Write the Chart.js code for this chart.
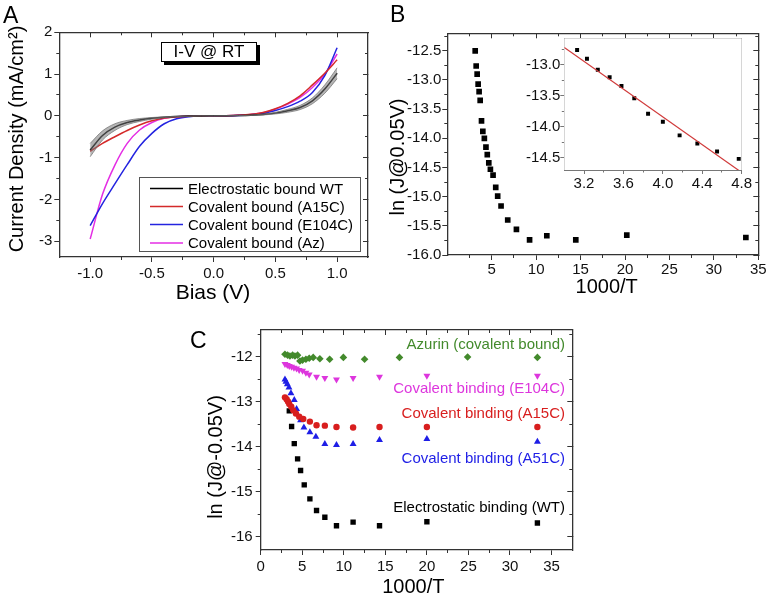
<!DOCTYPE html>
<html><head><meta charset="utf-8">
<script src="https://cdn.jsdelivr.net/npm/chart.js@4.4.1/dist/chart.umd.min.js"></script>
<style>
html,body{margin:0;padding:0;background:#fff;}
#wrap{position:relative;width:768px;height:599px;overflow:hidden;background:#fff;}
canvas{position:absolute;}
</style></head><body>
<div id="wrap">
<canvas id="cA" width="390" height="320" style="left:0px;top:0px"></canvas>
<canvas id="cB" width="420" height="320" style="left:385px;top:0px"></canvas>
<canvas id="cBi" width="300" height="190" style="left:500px;top:0px"></canvas>
<canvas id="cC" width="420" height="299" style="left:180px;top:300px"></canvas>
</div>
<script>
const FONT = "'Liberation Sans', Arial, sans-serif";

// ---------- Panel A : I-V @ RT ----------
const biasV   = [-1.0,-0.9,-0.8,-0.7,-0.6,-0.5,-0.4,-0.3,-0.2,-0.1,0,0.1,0.2,0.3,0.4,0.5,0.6,0.7,0.8,0.9,1.0];
const jWT     = [-0.82,-0.47,-0.27,-0.16,-0.10,-0.06,-0.033,-0.016,-0.007,-0.002,0,0.002,0.006,0.014,0.03,0.065,0.12,0.2,0.36,0.64,1.02];
const jWTerr  = [0.16,0.11,0.08,0.05,0.035,0.02,0.01,0.005,0,0,0,0,0,0.005,0.01,0.02,0.035,0.05,0.07,0.1,0.13];
const jA15C   = [-0.85,-0.66,-0.5,-0.35,-0.22,-0.12,-0.055,-0.022,-0.008,-0.002,0,0.004,0.014,0.035,0.08,0.17,0.3,0.48,0.74,1.02,1.34];
const jE104C  = [-2.63,-2.1,-1.63,-1.17,-0.73,-0.42,-0.19,-0.07,-0.02,-0.004,0,0.002,0.01,0.028,0.06,0.13,0.22,0.35,0.56,0.96,1.63];
const jAz     = [-2.95,-1.88,-1.18,-0.66,-0.34,-0.16,-0.06,-0.02,-0.006,-0.001,0,0.003,0.012,0.033,0.075,0.16,0.28,0.44,0.68,1.0,1.48];
const aLabels = ["Electrostatic bound WT","Covalent bound (A15C)","Covalent bound (E104C)","Covalent bound (Az)"];
const aXTicks = [-1.0,-0.5,0.0,0.5,1.0];
const aXMinor = [-0.75,-0.25,0.25,0.75];
const aYTicks = [-3,-2,-1,0,1,2];
const aYMinor = [-2.5,-1.5,-0.5,0.5,1.5];

// ---------- Panel B : ln J vs 1000/T ----------
const bInvT = [3.14,3.25,3.36,3.47,3.58,3.7,3.85,4.0,4.17,4.35,4.5,4.67,4.85,5.15,5.45,5.67,6.05,6.8,7.78,9.26,11.2,14.46,20.2,33.6];
const bLnJ  = [-12.5,-12.76,-12.9,-13.07,-13.2,-13.35,-13.7,-13.88,-14.0,-14.15,-14.28,-14.42,-14.53,-14.63,-14.84,-14.99,-15.16,-15.4,-15.56,-15.74,-15.67,-15.74,-15.66,-15.7];
const bXTicks = [5,10,15,20,25,30,35];
const bXMinor = [2.5,7.5,12.5,17.5,22.5,27.5,32.5];
const bYTicks = [-16.0,-15.5,-15.0,-14.5,-14.0,-13.5,-13.0,-12.5];
const bYMinor = [-15.75,-15.25,-14.75,-14.25,-13.75,-13.25,-12.75,-12.25];

// inset
const iInvT = [3.13,3.23,3.34,3.46,3.58,3.71,3.85,4.0,4.17,4.35,4.55,4.77];
const iLnJ  = [-12.76,-12.9,-13.08,-13.2,-13.34,-13.54,-13.79,-13.92,-14.14,-14.27,-14.4,-14.52];
const iFitX = [3.0,4.8];
const iFitY = [-12.72,-14.74];
const iXTicks = [3.2,3.6,4.0,4.4,4.8];
const iXMinor = [3.4,3.8,4.2,4.6];
const iYTicks = [-14.5,-14.0,-13.5,-13.0];
const iYMinor = [-14.25,-13.75,-13.25,-12.75];

// ---------- Panel C ----------
const cAzX  = [2.92,3.24,3.52,3.84,4.12,4.44,4.72,5.04,5.44,5.84,6.32,7.12,8.3,9.95,12.5,16.7,24.9,33.3];
const cAzY  = [-11.94,-11.96,-11.98,-11.96,-11.98,-11.96,-12.09,-12.07,-12.05,-12.03,-12.01,-12.04,-12.05,-12.01,-12.05,-12.01,-12.0,-12.01];
const cE104X = [2.92,3.2,3.44,3.72,4.0,4.32,4.63,5.04,5.44,5.84,6.72,7.72,9.12,11.12,14.3,20,33.3];
const cE104Y = [-12.16,-12.18,-12.2,-12.22,-12.24,-12.26,-12.29,-12.31,-12.35,-12.39,-12.44,-12.47,-12.5,-12.47,-12.44,-12.42,-12.42];
const cA15X = [2.92,3.12,3.28,3.44,3.68,3.92,4.24,4.64,5.12,5.92,6.72,7.72,9.12,11.12,14.3,20,33.3];
const cA15Y = [-12.9,-12.94,-12.99,-13.05,-13.11,-13.19,-13.26,-13.33,-13.38,-13.44,-13.52,-13.53,-13.56,-13.57,-13.56,-13.56,-13.56];
const cA51X = [2.92,3.04,3.2,3.4,3.64,4.04,4.32,4.8,5.2,5.92,6.64,7.72,9.12,11.12,14.3,20,33.3];
const cA51Y = [-12.5,-12.55,-12.61,-12.68,-12.81,-12.96,-13.16,-13.41,-13.57,-13.68,-13.78,-13.94,-13.96,-13.94,-13.85,-13.83,-13.89];
const cWTX  = [3.44,3.72,4.04,4.44,4.8,5.24,5.92,6.72,7.72,9.12,11.12,14.3,20,33.3];
const cWTY  = [-13.2,-13.55,-13.93,-14.27,-14.53,-14.85,-15.16,-15.42,-15.57,-15.76,-15.68,-15.76,-15.67,-15.7];
const cLabels = ["Azurin (covalent bound)","Covalent binding (E104C)","Covalent binding (A15C)","Covalent binding (A51C)","Electrostatic binding (WT)"];
const cXTicks = [0,5,10,15,20,25,30,35];
const cXMinor = [2.5,7.5,12.5,17.5,22.5,27.5,32.5];
const cYTicks = [-16,-15,-14,-13,-12];
const cYMinor = [-15.5,-14.5,-13.5,-12.5,-11.5];

// ---------- helpers ----------
const pts = (xs, ys) => xs.map((x, i) => ({x, y: ys[i]}));

function makeDeco(items, bg, ox, oy, extra) {
  return {
    id: 'deco',
    beforeDatasetsDraw(chart) {
      if (!bg) return;
      const ctx = chart.ctx, a = chart.chartArea;
      ctx.save(); ctx.fillStyle = bg;
      ctx.fillRect(a.left, a.top, a.right - a.left, a.bottom - a.top);
      ctx.restore();
    },
    afterDraw(chart) {
      const ctx = chart.ctx;
      ctx.save();
      ctx.translate(-ox, -oy);
      items.forEach(it => {
        ctx.save();
        ctx.font = it.font; ctx.fillStyle = it.color || '#000';
        ctx.textAlign = it.align || 'center'; ctx.textBaseline = it.base || 'middle';
        ctx.translate(it.x, it.y); if (it.rot) ctx.rotate(it.rot);
        ctx.fillText(it.t, 0, 0);
        ctx.restore();
      });
      if (extra) extra(ctx);
      ctx.restore();
    }
  };
}

// Builds the scales of one direction: labelled main axis, mirror frame axis (ticks inward),
// and two zero-size axes carrying the shorter minor ticks.
function axes(dir, min, max, major, minor, fmt, pad, sty) {
  const mk = (position, ticks, labels, tl, border, weight) => ({
    type: 'linear', axis: dir, position, min, max, weight,
    afterBuildTicks: s => { s.ticks = ticks.map(v => ({value: v})); },
    grid: {display: true, drawOnChartArea: false, drawTicks: true, tickLength: tl, tickColor: sty.color, tickWidth: 1},
    border: {display: border, color: sty.color, width: sty.bw},
    ticks: {display: labels, color: '#111', font: {family: FONT, size: 15}, padding: pad, autoSkip: false, maxRotation: 0,
            callback: v => fmt(v)}
  });
  const [p1, p2] = dir === 'x' ? ['bottom', 'top'] : ['left', 'right'];
  return {
    main:   mk(p1, major, true, sty.tl, true, 1),
    mirror: mk(p2, major, false, -sty.tl, true, 1),
    mainMinor:   mk(p1, minor, false, sty.mt, false, 0),
    mirrorMinor: mk(p2, minor, false, -sty.mt, false, 0)
  };
}

// area given in page coordinates; canvas placed at (ox, oy)
function makeChart(id, ox, oy, type, area, datasets, xs, ys, items, extra, bg) {
  const cv = document.getElementById(id);
  const W = cv.width, H = cv.height;
  const l = area.l - ox, t = area.t - oy, r = area.r - ox, b = area.b - oy;
  xs.main.afterFit = s => { s.height = H - b; };
  ys.main.afterFit = s => { s.width = l; };
  [xs.mirror, xs.mainMinor, xs.mirrorMinor].forEach(a => { a.afterFit = s => { s.height = 0; }; });
  [ys.mirror, ys.mainMinor, ys.mirrorMinor].forEach(a => { a.afterFit = s => { s.width = 0; }; });
  return new Chart(cv, {
    type,
    data: {datasets},
    options: {
      responsive: false, animation: false, devicePixelRatio: 1,
      layout: {padding: {left: 0, top: t, right: W - r, bottom: 0}},
      plugins: {legend: {display: false}, tooltip: {enabled: false}},
      scales: {x: xs.main, y: ys.main, x2: xs.mirror, y2: ys.mirror,
               x3: xs.mainMinor, x4: xs.mirrorMinor, y3: ys.mainMinor, y4: ys.mirrorMinor}
    },
    plugins: [makeDeco(items, bg, ox, oy, extra)]
  });
}

const STY = {tl: 5, mt: 3, color: '#333', bw: 1.3};
const STYI = {tl: 4, mt: 2.5, color: '#777', bw: 1};

// ---------- Panel A ----------
const colA = ['#000000', '#d42a2a', '#2424e0', '#e42ee4'];
const wtUp = biasV.map((v, i) => ({x: v, y: jWT[i] + jWTerr[i]}));
const wtLo = biasV.map((v, i) => ({x: v, y: jWT[i] - jWTerr[i]}));
const lineDs = (label, ys, color) => ({label, data: pts(biasV, ys), borderColor: color, borderWidth: 1.5,
  pointRadius: 0, fill: false, cubicInterpolationMode: 'monotone', showLine: true});

function legendA(ctx) {
  ctx.save();
  ctx.fillStyle = '#000'; ctx.fillRect(164, 45, 96, 20);
  ctx.fillStyle = '#fff'; ctx.fillRect(161, 42, 96, 20);
  ctx.strokeStyle = '#000'; ctx.lineWidth = 1; ctx.strokeRect(161.5, 42.5, 95, 19);
  ctx.fillStyle = '#000'; ctx.font = '17px ' + FONT; ctx.textAlign = 'center'; ctx.textBaseline = 'middle';
  ctx.fillText('I-V @ RT', 209, 52.5);
  ctx.fillStyle = '#fff'; ctx.fillRect(139, 177, 222, 75);
  ctx.strokeStyle = '#555'; ctx.strokeRect(139.5, 177.5, 221, 74);
  const rows = [188.5, 206.5, 224.5, 243];
  ctx.font = '15px ' + FONT; ctx.textAlign = 'left';
  aLabels.forEach((t, i) => {
    ctx.strokeStyle = colA[i]; ctx.lineWidth = 1.5;
    ctx.beginPath(); ctx.moveTo(150, rows[i]); ctx.lineTo(183, rows[i]); ctx.stroke();
    ctx.fillStyle = '#000'; ctx.fillText(t, 188, rows[i] + 1);
  });
  ctx.restore();
}

makeChart('cA', 0, 0, 'line', {l: 59.3, t: 32.3, r: 368, b: 257},
  [
    {label: 'errUp', data: wtUp, borderColor: 'rgba(110,110,110,0.7)', borderWidth: 1, pointRadius: 0, fill: false, cubicInterpolationMode: 'monotone'},
    {label: 'errLo', data: wtLo, borderColor: 'rgba(110,110,110,0.7)', borderWidth: 1, pointRadius: 0, fill: '-1', backgroundColor: 'rgba(120,120,120,0.55)', cubicInterpolationMode: 'monotone'},
    lineDs(aLabels[0], jWT, colA[0]),
    lineDs(aLabels[1], jA15C, colA[1]),
    lineDs(aLabels[2], jE104C, colA[2]),
    lineDs(aLabels[3], jAz, colA[3])
  ],
  axes('x', -1.25, 1.25, aXTicks, aXMinor, v => v.toFixed(1), 3, STY),
  axes('y', -3.38, 2, aYTicks, aYMinor, v => String(v), 2, STY),
  [
    {t: 'A', x: 3, y: 23, font: '23px ' + FONT, align: 'left', base: 'alphabetic'},
    {t: 'Bias (V)', x: 213, y: 293, font: '21px ' + FONT},
    {t: 'Current Density (mA/cm\u00B2)', x: 17.5, y: 139, font: '20px ' + FONT, rot: -Math.PI / 2}
  ],
  legendA
);

// ---------- Panel B ----------
makeChart('cB', 385, 0, 'scatter', {l: 447.3, t: 33.3, r: 758.3, b: 255},
  [{label: 'ln J', data: pts(bInvT, bLnJ), pointStyle: 'rect', pointRadius: 4, backgroundColor: '#000', borderColor: '#000', borderWidth: 0}],
  axes('x', 0, 35, bXTicks, bXMinor, v => String(v), 1, STY),
  axes('y', -16.0, -12.2, bYTicks, bYMinor, v => v.toFixed(1), 1, STY),
  [
    {t: 'B', x: 390, y: 22, font: '23px ' + FONT, align: 'left', base: 'alphabetic'},
    {t: '1000/T', x: 606.7, y: 287, font: '20px ' + FONT},
    {t: 'ln (J@0.05V)', x: 398, y: 157, font: '20px ' + FONT, rot: -Math.PI / 2}
  ]
);

makeChart('cBi', 500, 0, 'scatter', {l: 564.3, t: 38.3, r: 741.7, b: 170},
  [
    {label: 'fit', data: pts(iFitX, iFitY), showLine: true, borderColor: '#d03a3a', borderWidth: 1.2, pointRadius: 0, fill: false},
    {label: 'data', data: pts(iInvT, iLnJ), pointStyle: 'rect', pointRadius: 2.8, backgroundColor: '#000', borderColor: '#000', borderWidth: 0}
  ],
  axes('x', 3.0, 4.8, iXTicks, iXMinor, v => v.toFixed(1), 1, STYI),
  axes('y', -14.7, -12.57, iYTicks, iYMinor, v => v.toFixed(1), 0, STYI),
  [], null, '#fff'
);

// ---------- Panel C ----------
const cCol = ['#438a2c', '#dd36dd', '#d81e1e', '#1e1ee6', '#000000'];
makeChart('cC', 180, 300, 'scatter', {l: 260.7, t: 330, r: 572.3, b: 550},
  [
    {label: cLabels[0], data: pts(cAzX, cAzY), pointStyle: 'rectRot', pointRadius: 3.8, backgroundColor: cCol[0], borderWidth: 0, order: 0},
    {label: cLabels[1], data: pts(cE104X, cE104Y), pointStyle: 'triangle', rotation: 180, pointRadius: 4, backgroundColor: cCol[1], borderWidth: 0, order: 1},
    {label: cLabels[2], data: pts(cA15X, cA15Y), pointStyle: 'circle', pointRadius: 3.2, backgroundColor: cCol[2], borderWidth: 0, order: 2},
    {label: cLabels[3], data: pts(cA51X, cA51Y), pointStyle: 'triangle', pointRadius: 4, backgroundColor: cCol[3], borderWidth: 0, order: 3},
    {label: cLabels[4], data: pts(cWTX, cWTY), pointStyle: 'rect', pointRadius: 3.8, backgroundColor: cCol[4], borderWidth: 0, order: 4}
  ],
  axes('x', 0, 37.5, cXTicks, cXMinor, v => String(v), 3, STY),
  axes('y', -16.3, -11.4, cYTicks, cYMinor, v => String(v), 3, STY),
  [
    {t: 'C', x: 190, y: 348, font: '23px ' + FONT, align: 'left', base: 'alphabetic'},
    {t: '1000/T', x: 413.3, y: 587, font: '20px ' + FONT},
    {t: 'ln (J@-0.05V)', x: 216.7, y: 457, font: '20px ' + FONT, rot: -Math.PI / 2},
    {t: cLabels[0], x: 565, y: 345, font: '15px ' + FONT, align: 'right', color: cCol[0]},
    {t: cLabels[1], x: 565, y: 388.5, font: '15px ' + FONT, align: 'right', color: cCol[1]},
    {t: cLabels[2], x: 565, y: 414, font: '15px ' + FONT, align: 'right', color: cCol[2]},
    {t: cLabels[3], x: 565, y: 458.5, font: '15px ' + FONT, align: 'right', color: cCol[3]},
    {t: cLabels[4], x: 565, y: 507.5, font: '15px ' + FONT, align: 'right', color: cCol[4]}
  ]
);
</script>
</body></html>
